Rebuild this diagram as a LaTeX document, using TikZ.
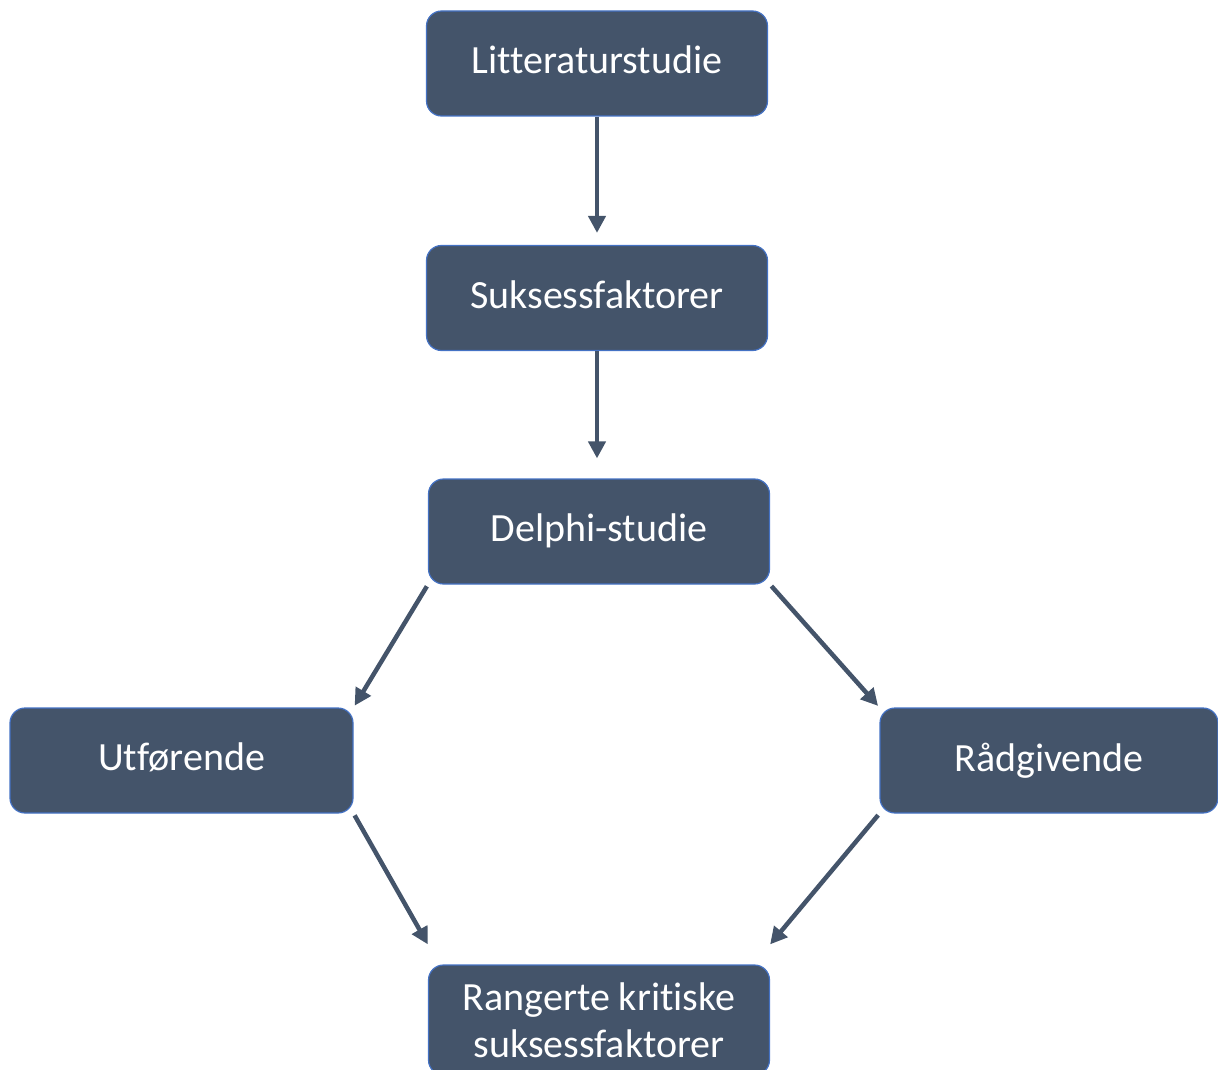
\documentclass[tikz,border=0pt]{standalone}
\usepackage{fontspec}
\setmainfont[Ligatures=NoCommon]{Carlito}
\usetikzlibrary{arrows.meta}

\definecolor{slate}{HTML}{44546A}
\definecolor{edgeblue}{HTML}{4472C4}

\begin{document}
\begin{tikzpicture}[x=1pt,y=-1pt,
  box/.style={draw=edgeblue,line width=1.2pt,fill=slate,rounded corners=15pt,
    minimum width=341pt,minimum height=105pt,text=white,align=center,
    font=\fontsize{40}{47}\selectfont},
  oneline/.style={box,execute at begin node={\vphantom{Ag}}},
  flow/.style={draw=slate,line width=4.5pt,-{Triangle[length=17pt,width=17pt]}}]
\clip (0,0) rectangle (1218,1070);
\useasboundingbox (0,0) rectangle (1218,1070);
\node [oneline] (lit) at (597,63.5) {Litteraturstudie};
\node [oneline] (suk) at (597,298) {Suksessfaktorer};
\node [oneline] (delphi) at (599,531.5) {Delphi-studie};
\node [oneline,minimum width=343pt] (utf) at (181.5,760.5) {Utførende};
\node [oneline,minimum width=338pt] (rad) at (1049,760.5) {Rådgivende};
\node [box,minimum height=110pt] (rang) at (599,1020) {Rangerte kritiske\\suksessfaktorer};

% vertical chain
\draw [flow,shorten >=12pt] (lit) -- (suk);
\draw [flow,shorten >=20pt] (suk.south) -- (suk.south |- delphi.north);
% split and merge
\draw [flow,shorten >=2pt,shorten <=2pt] (delphi.south west) -- (utf.north east);
\draw [flow,shorten >=2pt,shorten <=2pt] (delphi.south east) -- (rad.north west);
\draw [flow,shorten <=2pt] (utf.south east) -- ([yshift=20pt]rang.north west);
\draw [flow,shorten <=2pt] (rad.south west) -- ([yshift=20pt]rang.north east);
\end{tikzpicture}
\end{document}
